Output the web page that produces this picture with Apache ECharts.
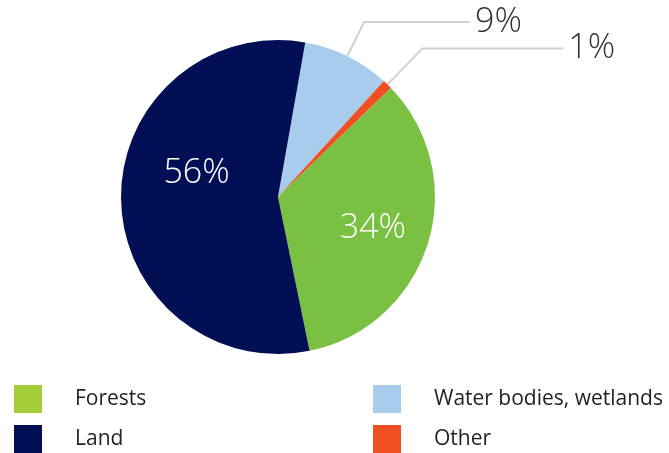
<!DOCTYPE html>
<html><head><meta charset="utf-8">
<script src="https://cdn.jsdelivr.net/npm/echarts@6/dist/echarts.min.js"></script>
<style>html,body{margin:0;padding:0;background:#fff}#c{width:669px;height:453px}</style>
</head><body><div id="c"></div>
<script>
const categories = ['Water bodies, wetlands', 'Other', 'Forests', 'Land'];
const values = [9, 1, 34, 56];
const sliceColors = ['#a8cdec', '#f04e23', '#7ac143', '#030f54'];
const legendColors = {'Forests':'#a5cd39','Land':'#030f54','Water bodies, wetlands':'#a8cdec','Other':'#f04e23'};
const legendOrder = ['Forests', 'Land', 'Water bodies, wetlands', 'Other'];
const insideLabels = ['Forests', 'Land'];

const chart = echarts.init(document.getElementById('c'));
const outsideLine = {'Water bodies, wetlands':[38,106], 'Other':[50,141]};
const data = categories.map((n,i)=>{
  const d = {name:n, value:values[i], itemStyle:{color:sliceColors[i]}};
  if (insideLabels.includes(n)) {
    d.label = {position:'inside', color:'#fff', fontSize:34};
    d.labelLine = {show:false};
  } else {
    d.labelLine = {length:outsideLine[n][0], length2:outsideLine[n][1]};
  }
  return d;
});
const mkLegend = (n, idx) => ({
  orient:'vertical', left: idx < 2 ? 14 : 373, top: idx % 2 === 0 ? 385 : 425, padding:0,
  itemWidth:28, itemHeight:28, selectedMode:false, icon:'rect',
  textStyle:{fontFamily:'Open Sans', fontSize:21, color:'#231f20', padding:[0,0,0,28]},
  data:[{name:n, itemStyle:{color:legendColors[n]}}]
});
chart.setOption({
  animation:false,
  legend:legendOrder.map(mkLegend),
  series:[{
    type:'pie', center:[278,197], radius:157, startAngle:80, clockwise:true,
    avoidLabelOverlap:false,
    label:{show:true, position:'outside', formatter:'{c}%', fontFamily:'Open Sans', fontWeight:300, fontSize:34, color:'#333', distanceToLabelLine:5},
    labelLine:{show:true, smooth:false, lineStyle:{color:'#d2d2d2', width:2}},
    labelLayout:function(p){
      if (p.dataIndex===3) return {dy:-25};
      if (p.dataIndex===2) return {dx:17, dy:7};
      return {};
    },
    emphasis:{disabled:true},
    data:data
  }]
});
</script></body></html>
